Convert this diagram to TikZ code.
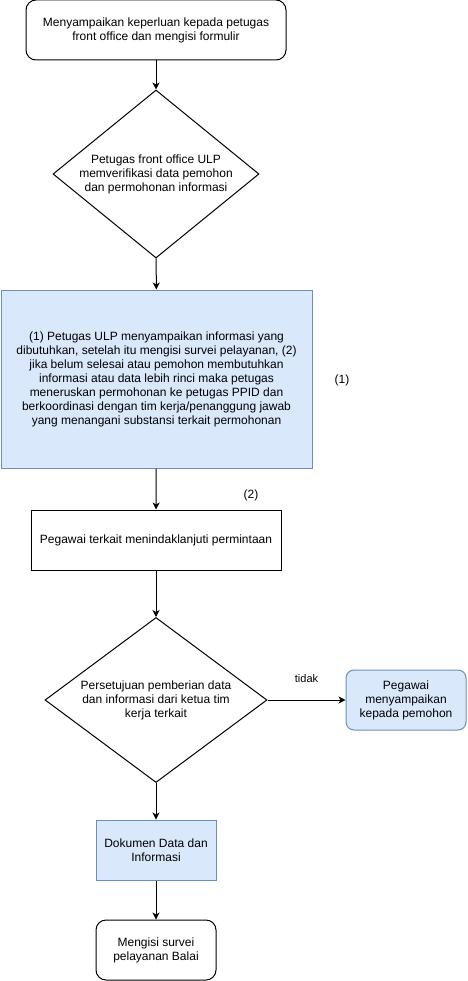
\documentclass[tikz,border=0pt]{standalone}
\usepackage{fontspec}
\setmainfont{Liberation Sans}
\usepackage{xcolor}
\usetikzlibrary{shapes.geometric,arrows.meta}
\definecolor{fillblue}{HTML}{DAE8FC}
\definecolor{lineblue}{HTML}{6C8EBF}

\begin{document}
\begin{tikzpicture}[x=1pt,y=-1pt,
every node/.style={font=\fontsize{12}{14}\selectfont},
box/.style={draw,line width=1pt,align=center,inner sep=0},
rbox/.style={box,rounded corners=10pt},
bluebox/.style={fill=fillblue,draw=lineblue},
dec/.style={draw,diamond,line width=1pt,align=center,inner sep=0},
link/.style={line width=1pt,-{Stealth[length=7pt,width=7pt,inset=2pt]}},
msg/.style={font=\fontsize{11}{13}\selectfont}]
	\useasboundingbox (0,0) rectangle (467,981);
	\def\ww{120pt}
	\def\hh{60pt}
	\node[rbox,minimum width=260pt,minimum height=\hh] at (156,30) (start) {Menyampaikan keperluan kepada petugas\\front office dan mengisi formulir};
	\node[dec,aspect=1.23,minimum width=206pt,minimum height=168pt] at (156,174) (verif) {Petugas front office ULP\\memverifikasi data pemohon\\dan permohonan informasi};
	\node[box,bluebox,minimum width=311pt,minimum height=178pt] at (156.5,379) (info) {(1) Petugas ULP menyampaikan informasi yang\\dibutuhkan, setelah itu mengisi survei pelayanan, (2)\\jika belum selesai atau pemohon membutuhkan\\informasi atau data lebih rinci maka petugas\\meneruskan permohonan ke petugas PPID dan\\berkoordinasi dengan tim kerja/penanggung jawab\\yang menangani substansi terkait permohonan};
	\node at (342,380) (note1) {(1)};
	\node at (251,495) (note2) {(2)};
	\node[box,minimum width=250pt,minimum height=\hh] at (156,540) (follow) {Pegawai terkait menindaklanjuti permintaan};
	\node[dec,aspect=1.35,minimum width=222pt,minimum height=165pt] at (156,700) (approve) {Persetujuan pemberian data\\dan informasi dari ketua tim\\kerja terkait};
	\node[rbox,bluebox,rounded corners=8pt,minimum width=\ww,minimum height=\hh] at (406,700) (tell) {Pegawai\\menyampaikan\\kepada pemohon};
	\node[box,bluebox,minimum width=\ww,minimum height=\hh] at (156,850) (doc) {Dokumen Data dan\\Informasi};
	\node[rbox,minimum width=\ww,minimum height=\hh] at (156,950) (survey) {Mengisi survei\\pelayanan Balai};

	\draw[link] (start) -- (verif);
	\draw[link] (verif) -- (info);
	\draw[link] (info) -- (follow);
	\draw[link] (follow) -- (approve);
	%tidak
	\draw[link] (approve.east) -- node[msg,above=14pt] (no) {tidak} (tell.west);
	\draw[link] (approve) -- (doc);
	\draw[link] (doc) -- (survey);
\end{tikzpicture}
\end{document}
